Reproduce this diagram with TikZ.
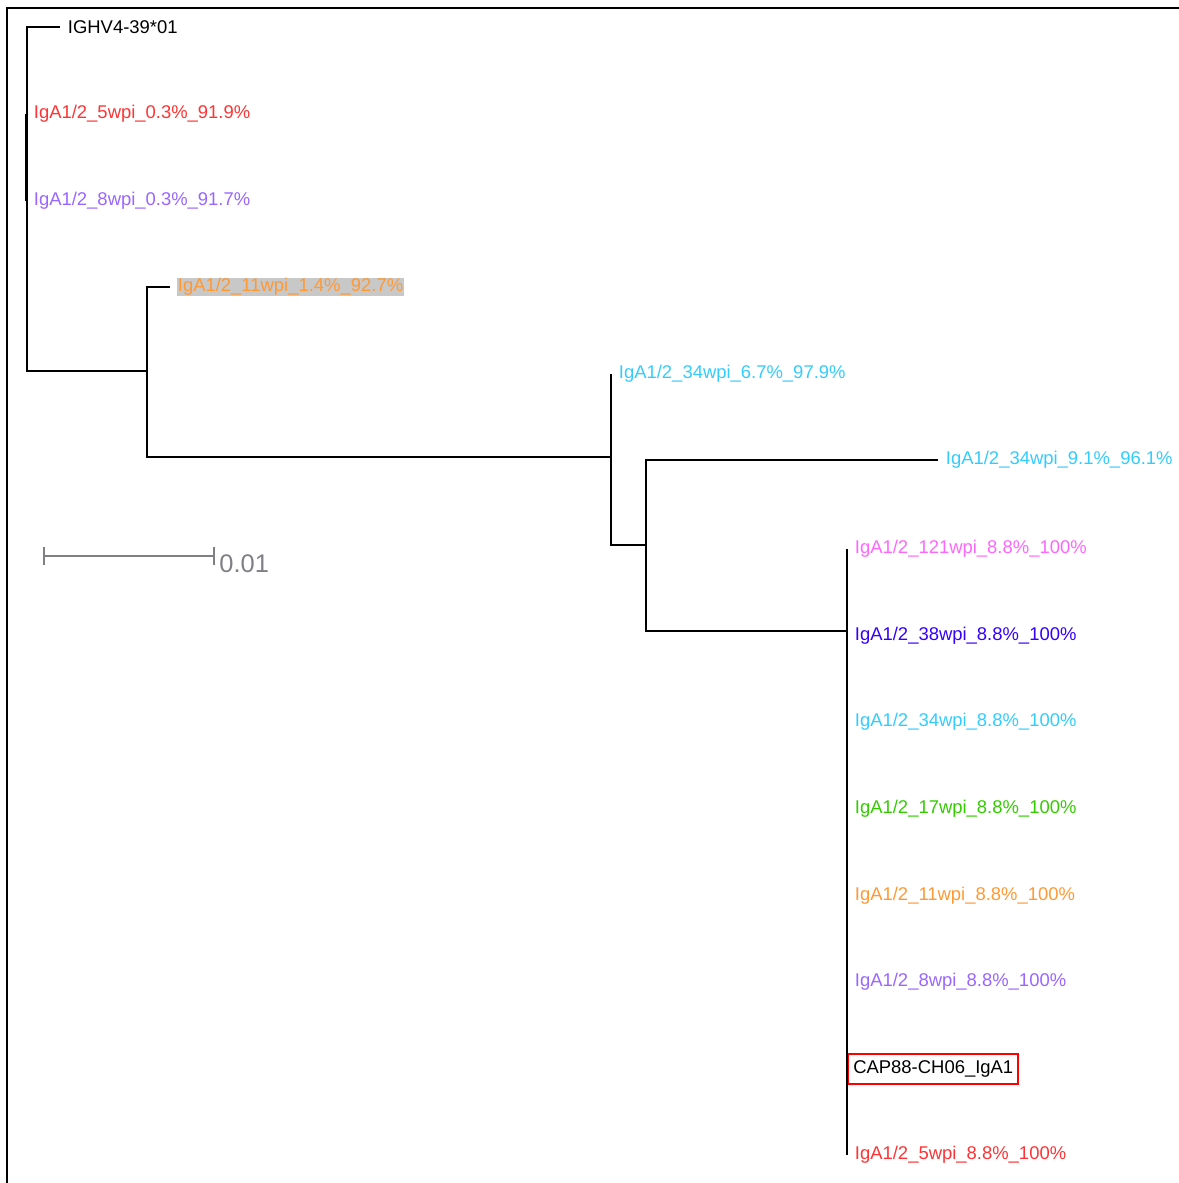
\documentclass[tikz,border=0pt]{standalone}
\usepackage{fontspec}
\setmainfont{Liberation Sans}
\usetikzlibrary{arrows.meta}
\definecolor{igred}{HTML}{FF3333}
\definecolor{igpurple}{HTML}{9966FF}
\definecolor{igorange}{HTML}{FF9933}
\definecolor{igcyan}{HTML}{33CCFF}
\definecolor{igpink}{HTML}{FF66FF}
\definecolor{igblue}{HTML}{3300FF}
\definecolor{iggreen}{HTML}{33CC00}
\definecolor{igshade}{HTML}{C8C8C8}
\definecolor{bargray}{HTML}{7F8085}

\begin{document}
\begin{tikzpicture}[x=0.02cm, y=-0.02cm,
    leaf/.style={anchor=west, inner sep=0.5pt, outer sep=4pt,
                 font=\fontsize{10.5}{12}\selectfont},
    branch/.style={line width=0.8pt},
    scalebar/.style={draw=bargray, line width=1.1pt}]
    \useasboundingbox (0,0) rectangle (1179,1183);
    \draw[line width=1.2pt] (7,1183) -- (7,8) -- (1179,8);

    % internal nodes of the tree
    \coordinate (root)  at (27,198);
    \coordinate (early) at (26,156);
    \coordinate (n11)   at (147,371);
    \coordinate (n34)   at (611,457);
    \coordinate (nlate) at (646,545);
    \coordinate (n88)   at (847,631);

    % leaves
    \node[leaf] (germ) at (60,27) {IGHV4-39*01};
    \node[leaf, text=igred]    (w5a)  at (26,114) {IgA1/2\_5wpi\_0.3\%\_91.9\%};
    \node[leaf, text=igpurple] (w8a)  at (26,201) {IgA1/2\_8wpi\_0.3\%\_91.7\%};
    \node[leaf, text=igorange, fill=igshade] (w11a) at (170,287) {IgA1/2\_11wpi\_1.4\%\_92.7\%};
    \node[leaf, text=igcyan]   (w34a) at (611,374) {IgA1/2\_34wpi\_6.7\%\_97.9\%};
    \node[leaf, text=igcyan]   (w34b) at (938,460) {IgA1/2\_34wpi\_9.1\%\_96.1\%};
    \foreach \i/\clr/\lbl in {
      0/igpink/121wpi, 1/igblue/38wpi, 2/igcyan/34wpi, 3/iggreen/17wpi,
      4/igorange/11wpi, 5/igpurple/8wpi, 7/igred/5wpi%
    }{
      \node[leaf, text=\clr] (c\i) at (847,549+86.6*\i) {IgA1/2\_\lbl\_8.8\%\_100\%};
    }
    \node[draw=red, line width=0.8pt, anchor=west, inner xsep=2.6pt,
          minimum height=0.6cm, font=\fontsize{10.5}{12}\selectfont]
          (c6) at (848,1069) {CAP88-CH06\_IgA1};

    % branches
    \draw[branch] (root) |- (germ.west);
    \draw[branch] (root) |- (n11);
    \draw[line width=1.7pt] (early) |- (w5a.west) (early) |- (w8a.west);
    \draw[branch] (n11) |- (w11a.west);
    \draw[branch] (n11) |- (n34);
    \draw[branch] (n34) |- (w34a.west);
    \draw[branch] (n34) |- (nlate);
    \draw[branch] (nlate) |- (w34b.west);
    \draw[branch] (nlate) |- (n88);
    \draw[branch] (n88) |- (c0.west);
    \draw[branch] (n88) |- (c7.west);

    % scale bar
    \coordinate (barL) at (43,556);
    \coordinate (barR) at (215,556);
    \draw[scalebar, {Bar[width=10pt]}-{Bar[width=10pt]}] (barL) -- (barR);
    \node[anchor=base west, inner sep=0pt, text=bargray,
          font=\fontsize{14.5}{16}\selectfont] (barlbl) at (219,572) {0.01};
\end{tikzpicture}
\end{document}
